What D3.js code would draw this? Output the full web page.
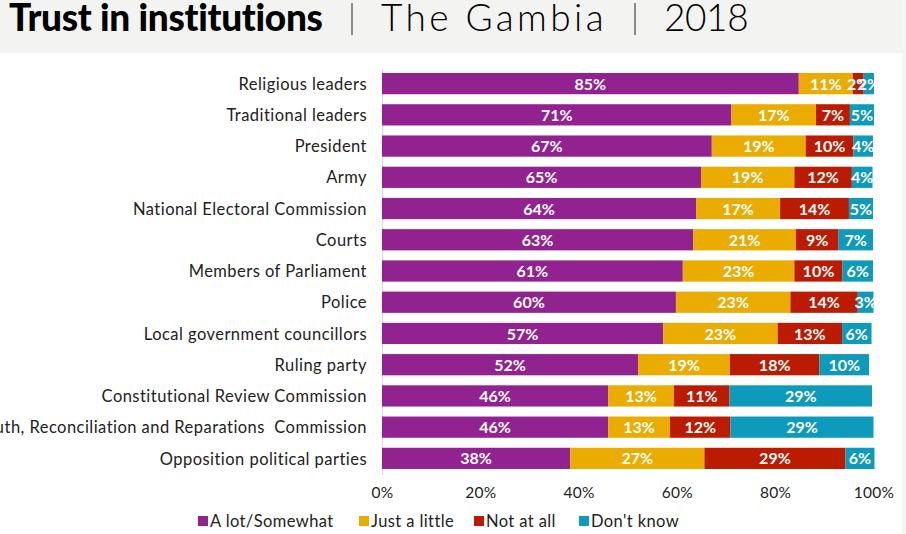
<!DOCTYPE html>
<html lang="en">
  <head>
    <title>Trust in institutions | The Gambia | 2018</title>
    <meta charset="utf-8">
    <script src="https://d3js.org/d3.v7.min.js"></script>
    <style>
      html, body { margin: 0; padding: 0; background: #fff; overflow: hidden; }
      svg { display: block; font-family: 'Lato', sans-serif; font-variant-ligatures: none; }
      .row-label text { font-size: 16.5px; fill: #222; letter-spacing: .46px; white-space: pre; }
      .x-axis text { font-size: 15.5px; fill: #222; letter-spacing: .3px; }
      .valor { font-size: 16px; font-weight: 700; fill: #fff; text-anchor: middle; }
      .legenda { font-size: 16.5px; fill: #222; letter-spacing: .4px; }
    </style>
  </head>
  <body>
    <svg></svg>

    <script>
      const categorias = [
        'Religious leaders', 'Traditional leaders', 'President', 'Army',
        'National Electoral Commission', 'Courts', 'Members of Parliament', 'Police',
        'Local government councillors', 'Ruling party', 'Constitutional Review Commission',
        'Truth, Reconciliation and Reparations  Commission', 'Opposition political parties'
      ]
      const series = ['A lot/Somewhat', 'Just a little', 'Not at all', "Don't know"]
      const cores = ['#92228f', '#eaac00', '#bb1b00', '#0e9abb']

      const aLot = [84.8, 71.1, 67.1, 64.9, 63.9, 63.3, 61.2, 59.8, 57.2, 52.1, 46.0, 46.0, 38.3]
      const justALittle = [11.0, 17.2, 19.1, 19.0, 17.1, 20.9, 22.7, 23.3, 23.3, 18.7, 13.4, 12.6, 27.3]
      const notAtAll = [2.2, 6.9, 9.7, 11.7, 14.0, 8.7, 9.8, 13.7, 13.1, 18.2, 11.3, 12.3, 28.7]
      const dontKnow = [2.1, 4.9, 4.0, 4.2, 4.9, 7.0, 6.2, 3.2, 6.0, 10.1, 29.0, 29.1, 5.9]
      const ticks = [0, 20, 40, 60, 80, 100]

      const legendaX = [198, 359, 474, 579]

      const svg = d3.select('svg')
        .attr('width', 906)
        .attr('height', 534)

      // faixa do título
      svg.append('rect')
        .attr('width', 906).attr('height', 53)
        .attr('fill', '#f3f3f2')
      svg.append('rect')
        .attr('x', 902).attr('width', 4).attr('height', 534)
        .attr('fill', '#f5f5f4')

      const titulo = svg.append('g')
        .style('font-size', '37px')
        .attr('fill', '#000')
      titulo.append('text').attr('x', 9).attr('y', 31)
        .attr('font-weight', 900).style('letter-spacing', '-.3px')
        .text('Trust in institutions')
      titulo.append('text').attr('x', 381).attr('y', 31)
        .attr('font-weight', 300).style('letter-spacing', '3.4px')
        .text('The Gambia')
      titulo.append('text').attr('x', 664).attr('y', 31)
        .attr('font-weight', 300).style('letter-spacing', '-.4px')
        .text('2018')
      titulo.selectAll('line')
        .data([352, 635])
        .join('line')
          .attr('x1', d => d).attr('x2', d => d)
          .attr('y1', 3).attr('y2', 35)
          .attr('stroke', '#222')

      // escalas
      const x = d3.scaleLinear().domain([0, 100]).range([382, 873.5])
      const y = d3.scaleBand().domain(categorias).range([68, 474]).paddingInner(0.32).paddingOuter(0.16)

      // linha do eixo e rótulos das categorias
      const eixoY = svg.append('g')
        .attr('class', 'row-label')
        .attr('transform', 'translate(382, 0.5)')
        .call(d3.axisLeft(y).tickSize(0).tickPadding(15))
        .attr('font-family', null)
        .attr('font-size', null)
      eixoY.select('.domain').attr('stroke', '#d9d9d9')
      eixoY.selectAll('text').attr('dy', '.34em')

      // barras empilhadas
      const linhas = categorias.map((c, i) => ({
        categoria: c, 0: aLot[i], 1: justALittle[i], 2: notAtAll[i], 3: dontKnow[i]
      }))
      const pilha = d3.stack().keys([0, 1, 2, 3])(linhas)

      const grupos = svg.selectAll('.serie')
        .data(pilha)
        .join('g')
          .attr('class', 'serie')

      grupos.selectAll('rect')
        .data(d => d)
        .join('rect')
          .attr('x', d => x(d[0]))
          .attr('y', d => y(d.data.categoria))
          .attr('width', d => x(d[1]) - x(d[0]))
          .attr('height', y.bandwidth())
          .attr('fill', function() { return cores[d3.select(this.parentNode).datum().key] })

      grupos.selectAll('.valor')
        .data(d => d)
        .join('text')
          .attr('class', 'valor')
          .attr('x', d => (x(d[0]) + x(d[1])) / 2)
          .attr('y', d => y(d.data.categoria) + y.bandwidth() / 2)
          .attr('dy', '.38em')
          .text(d => `${Math.round(d[1] - d[0])}%`)

      // eixo x
      const eixoX = svg.append('g')
        .attr('class', 'x-axis')
        .attr('transform', 'translate(0, 484)')
        .call(d3.axisBottom(x).tickValues(ticks).tickFormat(d => `${d}%`).tickSize(0).tickPadding(3))
        .attr('font-family', null)
        .attr('font-size', null)
      eixoX.select('.domain').remove()

      // legenda
      const legenda = svg.selectAll('.item')
        .data(series)
        .join('g')
          .attr('class', 'item')
          .attr('transform', (d, i) => `translate(${legendaX[i]}, 516)`)
      legenda.append('rect')
        .attr('width', 10).attr('height', 10)
        .attr('fill', (d, i) => cores[i])
      legenda.append('text')
        .attr('class', 'legenda')
        .attr('x', 12).attr('y', 11)
        .text(d => d)
    </script>
  </body>
</html>
